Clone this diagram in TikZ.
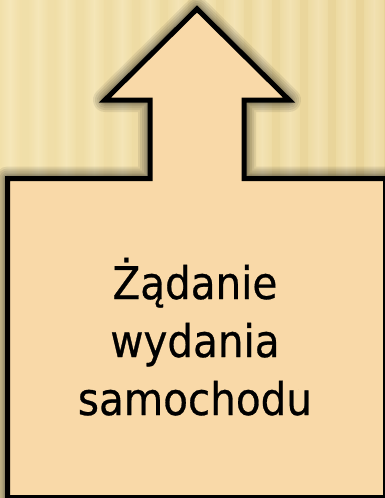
\documentclass[tikz,border=0pt]{standalone}
\usepackage{fontspec}
\newfontfamily\labelfont[FakeBold=0.6]{DejaVu Sans Condensed}
\definecolor{bgbase}{HTML}{F1E0AA}
\definecolor{bgdark}{HTML}{E8D398}
\definecolor{stripelight}{HTML}{FAEDC6}
\definecolor{boxfill}{HTML}{F9D9A8}
\tikzset{
  calloutshape/.style={draw=black, line width=5pt, fill=boxfill, line join=miter},
  glow/.style={draw=black, line join=round},
  labeltext/.style={font=\labelfont\fontsize{45}{58}\selectfont, text=black, anchor=base, inner sep=0pt}
}
\begin{document}
\begin{tikzpicture}[x=1pt,y=-1pt]
\useasboundingbox (0,0) rectangle (385,498);
\clip (0,0) rectangle (385,498);
% background
\shade[left color=bgbase, right color=bgdark] (0,0) rectangle (385,498);
\foreach \sx in {0,28,...,392}{
  \shade[left color=bgbase, right color=stripelight, opacity=0.55] (\sx,0) rectangle (\sx+10,498);
  \shade[left color=stripelight, right color=bgbase, opacity=0.55] (\sx+10,0) rectangle (\sx+20,498);
}
% shape path
\def\calloutpath{(7.5,497.5) -- (7.5,178.5) -- (150,178.5) -- (150,100) -- (105,100) -- (197,9) -- (289,100) -- (244,100) -- (244,178.5) -- (385.5,178.5) -- (385.5,497.5) -- cycle}
% soft shadow
\foreach \w in {24,20,16,12,9,7}{
  \draw[glow, line width=\w pt, opacity=0.08] \calloutpath;
}
\draw[calloutshape] \calloutpath;
% labels
\node[labeltext] (t1) at (195,299) {Żądanie};
\node[labeltext] (t2) at (195,357) {wydania};
\node[labeltext] (t3) at (195,415) {samochodu};
\end{tikzpicture}
\end{document}
